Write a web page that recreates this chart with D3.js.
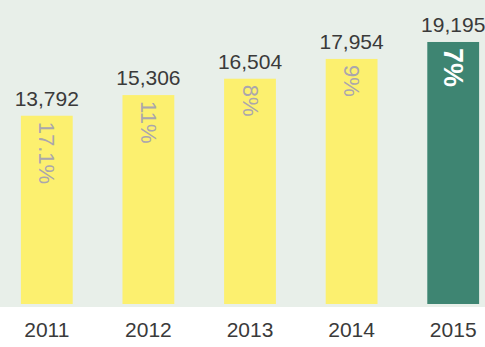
<!DOCTYPE html>
<html>
<head>
<meta charset="utf-8">
<script src="https://cdn.jsdelivr.net/npm/d3@7/dist/d3.min.js"></script>
<style>
  html, body { margin: 0; padding: 0; background: #ffffff; }
  svg { display: block; font-family: "Liberation Sans", Arial, sans-serif; }
</style>
</head>
<body>
<div id="chart"></div>
<script>
// Annual totals with year-over-year growth
const years = ["2011", "2012", "2013", "2014", "2015"];
const totals = [13792, 15306, 16504, 17954, 19195];
const growth = ["17.1%", "11%", "8%", "9%", "7%"];
const highlightYear = "2015";

const width = 485, height = 347;
const plotBottom = 306;

const svg = d3.select("#chart").append("svg")
  .attr("width", width)
  .attr("height", height);

// panel background behind the bars
svg.append("rect")
  .attr("x", 0).attr("y", 0)
  .attr("width", width).attr("height", plotBottom + 1)
  .attr("fill", "#e8efe9");

const x = d3.scaleBand()
  .domain(years)
  .range([-4, 504])
  .paddingInner(0.49)
  .paddingOuter(0.245);

const y = d3.scaleLinear()
  .domain([0, 20000])
  .range([304, 31]);

const data = years.map((yr, i) => ({ year: yr, total: totals[i], growth: growth[i] }));

const fmt = d3.format(",");

const bars = svg.append("g").selectAll("g")
  .data(data)
  .join("g");

bars.append("rect")
  .attr("x", d => x(d.year))
  .attr("y", d => y(d.total))
  .attr("width", x.bandwidth())
  .attr("height", d => y(0) - y(d.total))
  .attr("fill", d => d.year === highlightYear ? "#3e8572" : "#fcf06f");

// totals above each bar
bars.append("text")
  .attr("x", d => Math.min(x(d.year) + x.bandwidth() / 2, width - 31))
  .attr("y", d => y(d.total) - 10)
  .attr("text-anchor", "middle")
  .attr("font-size", 21)
  .attr("fill", "#3a3a3a")
  .text(d => fmt(d.total));

// growth rates written down the bars
bars.append("text")
  .attr("transform", d => `translate(${x(d.year) + x.bandwidth() / 2},${y(d.total) + 6}) rotate(90)`)
  .attr("text-anchor", "start")
  .attr("dominant-baseline", "central")
  .attr("font-size", d => d.year === highlightYear ? 27 : 22)
  .attr("font-weight", d => d.year === highlightYear ? "bold" : "normal")
  .attr("fill", d => d.year === highlightYear ? "#ffffff" : "#aaa6ad")
  .text(d => d.growth);

// year axis
const xAxis = svg.append("g")
  .attr("transform", `translate(0,${plotBottom})`)
  .call(d3.axisBottom(x).tickSize(0).tickPadding(16));
xAxis.select(".domain").remove();
xAxis.selectAll("text")
  .attr("font-size", 21)
  .attr("font-family", "Liberation Sans, Arial, sans-serif")
  .attr("fill", "#3a3a3a");
</script>
</body>
</html>
